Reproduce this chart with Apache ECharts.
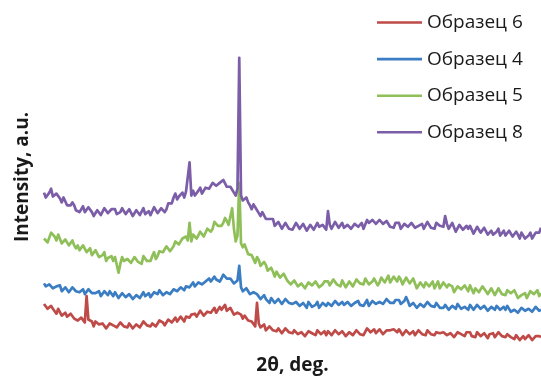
<!DOCTYPE html>
<html>
<head>
<meta charset="utf-8">
<script src="https://cdn.jsdelivr.net/npm/echarts@6/dist/echarts.min.js"></script>
<style>
  html, body { margin: 0; padding: 0; background: #fff; }
  #chart { width: 541px; height: 380px; }
</style>
</head>
<body>
<div id="chart"></div>
<script>
// 2θ grid, step 0.25 deg (no tick labels on the original)
const twoTheta = [];
for (let i = 0; i <= 280; i++) twoTheta.push(10 + i * 0.25);

const seriesNames = ["Образец 6", "Образец 4", "Образец 5", "Образец 8"];
const colors = ["#BE4B48", "#3B7DC3", "#8FBF58", "#7B5EA7"];

// intensities (a.u., curves already offset)
const sample6 = [
    39,38,34,34,37,34,32,29,34,33,27,29,30,26,25,29,29,24,24,22,
    22,25,26,20,47,23,23,21,16,21,20,18,17,19,20,14,16,19,19,17,
    19,15,15,20,20,16,16,15,19,19,14,14,18,18,15,18,21,20,17,17,
    16,19,21,16,19,22,22,20,17,19,23,25,20,21,25,21,23,26,26,21,
    26,26,25,28,30,29,26,27,32,31,27,27,31,33,30,32,35,30,31,36,
    33,34,38,32,33,35,34,28,27,30,29,28,24,27,27,22,21,21,21,16,
    40,19,15,16,18,12,12,16,15,12,10,11,14,14,9,8,14,12,10,12,
    9,12,12,8,8,10,11,6,6,11,10,9,7,7,12,12,8,8,11,7,
    11,11,7,6,12,10,8,10,11,11,6,8,10,10,7,6,12,11,8,9,
    7,8,14,14,10,10,13,9,8,13,12,8,9,12,14,12,10,13,13,10,
    13,11,7,6,12,11,8,9,11,7,6,12,10,8,7,7,12,11,8,6,
    7,10,11,9,7,10,10,7,5,9,9,5,6,10,11,8,7,6,10,11,
    10,6,5,5,10,9,6,4,9,8,4,8,8,9,5,6,10,8,6,4,
    5,8,8,5,4,3,7,8,2,4,6,3,3,7,8,2,4,6,7,6,
    5
];
const sample4 = [
    60,57,55,59,60,55,56,57,57,58,52,53,56,54,51,50,56,55,52,52,
    51,53,54,49,50,54,53,50,48,50,52,52,47,47,52,50,48,52,51,47,
    51,48,45,44,50,49,46,46,49,48,44,45,48,50,45,46,51,47,47,50,
    46,46,51,50,49,53,52,48,47,51,53,49,50,54,55,52,54,56,57,53,
    57,59,56,57,61,57,57,61,63,59,58,62,62,65,62,62,67,64,63,62,
    65,69,70,65,64,65,65,60,58,63,78,56,52,52,55,53,49,47,51,49,
    49,49,44,43,48,44,42,40,45,45,40,42,44,43,39,39,44,44,40,40,
    39,38,41,40,37,36,40,39,35,41,39,36,36,38,41,35,37,40,40,37,
    40,39,37,37,42,42,38,38,41,38,36,41,40,37,37,40,42,42,38,37,
    37,40,43,37,39,42,42,39,37,41,41,39,39,44,44,40,40,40,43,43,
    43,39,39,42,46,42,37,36,40,38,35,35,39,40,36,37,41,39,37,36,
    36,40,39,35,35,35,38,38,33,34,37,37,34,39,39,34,35,36,38,33,
    38,37,33,34,38,36,34,33,37,38,32,34,36,34,33,37,38,33,34,36,
    33,37,36,31,32,33,35,30,30,35,34,32,31,34,36,31,32,36,35,32,
    33
];
const sample5 = [
    106,107,102,104,112,110,108,104,110,108,101,103,105,105,99,98,104,99,96,99,
    94,94,99,98,92,92,96,89,88,94,92,87,86,89,92,83,86,88,88,83,
    87,87,71,80,87,83,81,85,86,81,79,87,85,82,80,80,88,87,83,83,
    83,88,92,85,88,93,95,92,90,98,98,93,94,98,103,102,100,100,106,108,
    108,104,122,103,110,110,106,107,113,112,108,109,116,117,113,116,123,123,119,118,
    119,122,127,124,120,119,137,116,103,109,163,101,97,100,98,90,89,89,90,81,
    87,84,78,78,82,79,73,71,76,72,67,72,71,66,64,70,69,63,61,59,
    58,63,63,57,57,60,62,55,55,61,61,58,56,62,63,56,58,59,62,61,
    62,58,57,64,64,59,58,57,63,63,56,58,62,61,57,56,64,63,60,61,
    59,65,66,59,60,62,65,64,58,61,66,68,61,63,68,61,63,67,67,62,
    67,64,59,58,66,64,60,61,65,64,55,56,61,59,56,61,63,57,56,62,
    55,57,62,55,56,61,61,56,59,58,57,51,52,57,59,54,54,58,58,52,
    58,54,50,55,57,51,51,57,56,52,49,50,55,55,48,49,55,52,49,47,
    48,53,55,50,49,53,51,45,44,48,50,50,45,46,52,52,49,49,53,47,
    50
];
const sample8 = [
    153,148,148,153,157,149,150,152,152,147,143,148,146,140,138,140,143,140,135,133,
    133,136,139,133,133,138,138,133,129,131,135,134,130,130,137,135,132,132,136,136,
    136,131,130,133,137,135,131,130,136,134,129,131,135,136,130,132,137,131,131,134,
    130,130,138,136,132,133,137,138,133,136,142,142,142,148,152,146,149,151,153,148,
    154,154,184,150,155,150,151,155,158,152,152,158,159,157,156,163,165,160,161,163,
    161,166,168,159,158,159,160,153,150,157,291,150,145,144,148,143,140,136,141,138,
    138,132,129,133,133,126,125,126,128,126,119,119,123,121,116,116,122,121,116,117,
    115,116,122,119,116,115,121,120,114,117,120,121,115,116,122,118,117,120,121,115,
    134,120,116,117,123,122,117,118,122,117,115,120,121,116,116,121,123,118,117,122,
    116,118,125,122,121,125,127,121,121,125,126,121,120,124,123,118,118,117,122,120,
    122,116,116,121,123,118,117,122,122,117,115,119,121,121,116,116,123,120,117,117,
    116,122,124,119,118,118,129,121,116,117,122,120,113,115,120,119,115,114,119,116,
    119,117,111,111,118,115,112,112,117,117,110,112,114,110,109,113,116,109,110,114,
    109,110,114,113,108,108,113,110,106,112,112,106,105,109,112,106,107,112,113,112,
    117
];

const allData = [sample6, sample4, sample5, sample8];

const chart = echarts.init(document.getElementById("chart"), null, { renderer: "canvas" });

const nameFont = { fontFamily: "Open Sans", fontSize: 19, fontWeight: "bold", color: "#1a1a1a" };

const option = {
    animation: false,
    backgroundColor: "#ffffff",
    color: colors,
    grid: { left: 44, right: 0, top: 12, bottom: 30 },
    legend: {
        orient: "vertical",
        left: 372,
        top: 8,
        itemWidth: 45,
        itemHeight: 14,
        itemGap: 17.6,
        icon: "path://M0,0 L45,0 L45,2.6 L0,2.6 Z",
        textStyle: { fontFamily: "Open Sans", fontSize: 19, color: "#1a1a1a" },
        data: seriesNames,
    },
    xAxis: {
        type: "value",
        min: 10,
        max: 80,
        name: "2θ, deg.",
        nameLocation: "middle",
        nameGap: 14,
        nameTextStyle: nameFont,
        axisLine: { show: false },
        axisTick: { show: false },
        axisLabel: { show: false },
        splitLine: { show: false },
    },
    yAxis: {
        type: "value",
        min: 0,
        max: 338,
        name: "Intensity, a.u.",
        nameLocation: "middle",
        nameRotate: 90,
        nameGap: 12,
        nameTextStyle: nameFont,
        axisLine: { show: false },
        axisTick: { show: false },
        axisLabel: { show: false },
        splitLine: { show: false },
    },
    series: seriesNames.map((name, k) => ({
        name,
        type: "line",
        symbol: "none",
        lineStyle: { width: 2.7, color: colors[k], join: "round" },
        itemStyle: { color: colors[k] },
        data: twoTheta.map((x, i) => [x, allData[k][i]]),
    })),
};

chart.setOption(option);
</script>
</body>
</html>
